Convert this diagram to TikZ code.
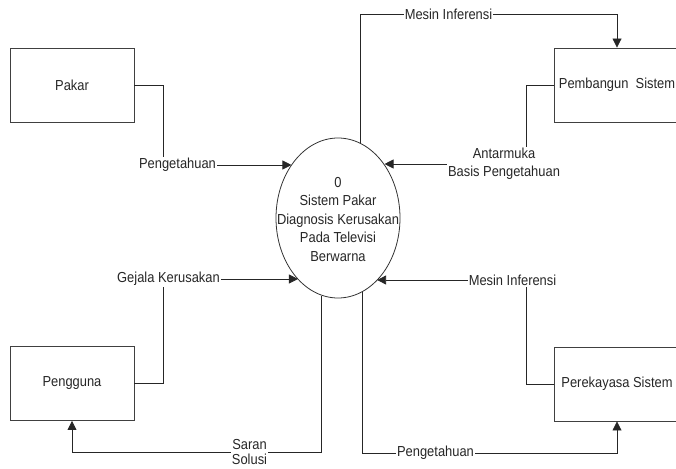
\documentclass[tikz,border=0pt]{standalone}
\usepackage{fontspec}
\setmainfont[FakeStretch=0.89]{Liberation Sans}
\usetikzlibrary{shapes.geometric,arrows.meta}
\begin{document}
\begin{tikzpicture}[x=1pt,y=-1pt,
  every node/.style={font=\fontsize{14.5}{18.5}\selectfont, text=black!85},
  entity/.style={draw=black!75, line width=0.9pt, minimum width=124pt, minimum height=74pt, inner sep=0pt},
  process/.style={ellipse, draw=black!80, line width=0.8pt, minimum width=124pt, minimum height=160pt, inner sep=0pt},
  flowlabel/.style={inner sep=1pt, align=center},
  flow/.style={draw=black!85, line width=0.8pt},
  arr/.style={-{Triangle[length=9pt,width=9pt]}}
]
\useasboundingbox (0,0) rectangle (676,468);

% external entities
\node[entity] (pakar) at (72,85) {Pakar};
\node[entity] (pengguna) at (72,383.5) {Pengguna};
\node[entity, minimum width=126pt] (bangun) at (617,85) {Pembangun\ \ Sistem};
\node[entity, minimum width=126pt] (rekayasa) at (617,384) {Perekayasa Sistem};

% the process
\node[process, label={[flowlabel, inner sep=0pt, yshift=-1.5pt]center:{0\\Sistem Pakar\\Diagnosis Kerusakan\\Pada Televisi\\Berwarna}}] (sys) at (338,218) {};

% flow labels
\node[flowlabel] (lblP1) at (177.5,165) {Pengetahuan};
\node[flowlabel] (lblM1) at (448.5,14) {Mesin Inferensi};
\node[flowlabel, font=\fontsize{14.5}{18}\selectfont] (lblA) at (504,164) {Antarmuka\\Basis Pengetahuan};
\node[flowlabel] (lblG) at (168.5,279) {Gejala Kerusakan};
\node[flowlabel, font=\fontsize{14.5}{14.5}\selectfont] (lblS) at (249.5,452) {Saran\\Solusi};
\node[flowlabel] (lblM2) at (512.5,280) {Mesin Inferensi};
\node[flowlabel] (lblP2) at (435.5,453) {Pengetahuan};

% Pakar -> process
\draw[flow] (pakar.east) -| ([xshift=-14.5pt]lblP1.north);
\draw[flow,arr] (lblP1.east) -- (lblP1.east -| sys.131);

% process -> Pembangun Sistem
\draw[flow] (sys.73) |- (lblM1.west);
\draw[flow,arr] (lblM1.east) -| (bangun.north);

% Pembangun Sistem -> process
\draw[flow] (bangun.west) -| ([xshift=22pt]lblA.north);
\draw[flow,arr] (lblA.west) -- (lblA.west -| sys.49);

% Pengguna -> process
\draw[flow] (pengguna.east) -| ([xshift=-5.5pt]lblG.south);
\draw[flow,arr] (lblG.east) -- (lblG.east -| sys.237);

% process -> Pengguna
\draw[flow] (sys.258) |- (lblS.east);
\draw[flow,arr] (lblS.west) -| (pengguna.south);

% Perekayasa Sistem -> process
\draw[flow] (rekayasa.west) -| ([xshift=13.5pt]lblM2.south);
\draw[flow,arr] (lblM2.west) -- (lblM2.west -| sys.302);

% process -> Perekayasa Sistem
\draw[flow] (sys.288) |- (lblP2.west);
\draw[flow,arr] (lblP2.east) -| (rekayasa.south);
\end{tikzpicture}
\end{document}
